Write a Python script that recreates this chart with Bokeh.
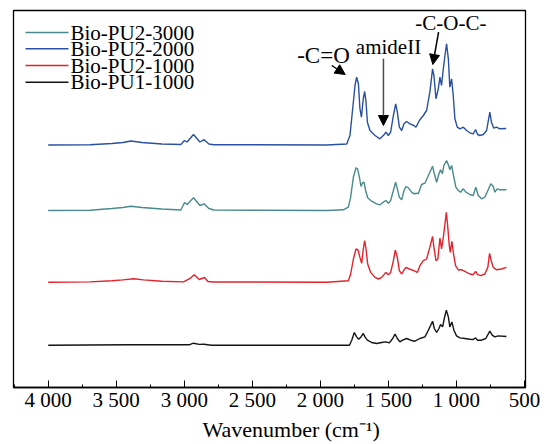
import numpy as np
from bokeh.plotting import figure
from bokeh.models import (Range1d, SingleIntervalTicker, CustomJSTickFormatter, ColumnDataSource,
                          Label, Arrow, NormalHead, Title)
from bokeh.embed import file_html
from bokeh.resources import INLINE

# ---------------- data ----------------
series_names = ["Bio-PU2-3000", "Bio-PU2-2000", "Bio-PU2-1000", "Bio-PU1-1000"]
series_colors = ["#4a8a8d", "#2a50a2", "#e3222b", "#141414"]
offsets = [177.0, 242.5, 105.3, 42.3]   # vertical stacking offset of each spectrum

wn_pu2_3000 = [4000, 3693, 3532, 3451, 3392, 3311, 3164, 3025, 2998, 2979, 2932, 2885, 2854, 2819, 2783,
               1953, 1831, 1794, 1777, 1757, 1738, 1726, 1713, 1701, 1689, 1679, 1667, 1652, 1623, 1586,
               1562, 1537, 1518, 1500, 1483, 1463, 1446, 1434, 1419, 1402, 1385, 1371, 1353, 1329, 1312,
               1292, 1280, 1256, 1231, 1206, 1175, 1162, 1145, 1128, 1116, 1103, 1092, 1072, 1057, 1048,
               1035, 1021, 1004, 986, 969, 949, 930, 901, 876, 857, 839, 815, 791, 766, 747, 729, 717,
               700, 681, 632]
int_pu2_3000 = [0, 0.3, 2, 3, 4.3, 3, 1.5, 0.5, 8, 6, 12.7, 5, 6.7, 2, 0.5,
                0, 0.7, 3.3, 13.3, 33.3, 42.7, 41.7, 33.3, 24, 27.7, 28.3, 20, 12.7, 9.3, 6.7,
                5.7, 8.3, 10, 7.3, 10, 20, 28.3, 21.7, 13.3, 10.7, 20, 24, 22.7, 18.3, 16.7,
                17.3, 16.7, 26, 27.3, 35, 44.3, 36.7, 28.3, 36.7, 40.7, 36.7, 45, 50, 45, 40.7,
                45, 35, 23.3, 20, 18.3, 21.7, 18.3, 16, 15, 23.3, 15, 11.7, 13.3, 20.7, 26.7, 24, 18.3,
                21.7, 20.7, 20.7]

wn_pu2_2000 = [4000, 3693, 3532, 3451, 3392, 3311, 3164, 3025, 2998, 2979, 2932, 2885, 2854, 2819, 2783,
               1953, 1806, 1782, 1762, 1745, 1733, 1720, 1709, 1698, 1684, 1674, 1664, 1654, 1635, 1598,
               1562, 1532, 1518, 1500, 1483, 1463, 1446, 1434, 1419, 1402, 1385, 1366, 1341, 1312, 1297,
               1272, 1243, 1219, 1195, 1175, 1165, 1150, 1133, 1121, 1109, 1096, 1084, 1072, 1059, 1048,
               1035, 1023, 1011, 993, 974, 949, 925, 901, 876, 859, 844, 828, 802, 778, 754, 742, 725,
               705, 681, 634]
int_pu2_2000 = [0, 0.3, 1.5, 2.5, 4, 2.5, 1, 0.5, 4.5, 3, 10.5, 3, 5.3, 1, 0.3,
                0, 1, 9.5, 36.5, 59.5, 67.8, 61.2, 36.5, 27.8, 46.5, 53.5, 42.8, 22.8, 14.5, 9.5,
                6.2, 10.2, 12.8, 9.5, 12.8, 29.5, 41.2, 32.8, 17.8, 14.5, 21.2, 23.5, 21.2, 19.5, 17.8,
                24.5, 29.5, 34.5, 52.8, 76.2, 69.5, 46.2, 56.2, 67.8, 59.5, 76.2, 89.5, 101.2, 86.2, 57.8,
                66.2, 49.5, 26.2, 17.8, 16.2, 17.8, 14.5, 12.2, 11.2, 15.5, 10.5, 9.5, 10.5, 14.5, 32.8, 22.8, 16.8,
                17.8, 16.2, 16.5]

wn_pu2_1000 = [4000, 3693, 3532, 3451, 3372, 3300, 3164, 3006, 2960, 2927, 2890, 2851, 2826, 2783,
               1953, 1794, 1777, 1757, 1738, 1723, 1709, 1696, 1684, 1674, 1664, 1652, 1630, 1598, 1573,
               1549, 1518, 1500, 1483, 1463, 1449, 1434, 1419, 1402, 1385, 1371, 1346, 1312, 1287, 1268,
               1243, 1219, 1195, 1175, 1165, 1150, 1136, 1121, 1109, 1096, 1084, 1074, 1065, 1052, 1045,
               1033, 1021, 1006, 986, 962, 938, 901, 876, 859, 844, 822, 791, 769, 756, 744, 729, 705,
               668, 632]
int_pu2_1000 = [0, 0.3, 1.5, 2.3, 3.4, 2.3, 1, 0.3, 3.5, 7.4, 2.7, 4.7, 0.7, 0.2,
                0, 1.5, 8.2, 23.2, 33.2, 32.2, 24.8, 18.8, 33.2, 41.5, 33.2, 18.2, 9.8, 4.8, 3.2,
                4.8, 9.8, 7.5, 9.8, 21.5, 32.2, 24.8, 11.5, 8.2, 12.2, 14.8, 13.2, 11.5, 9.8, 16.5,
                21.5, 23.2, 34.8, 45.8, 34.8, 21.5, 23.2, 44.2, 33.2, 44.8, 58.2, 69.8, 58.2, 36.5, 29.8,
                40.8, 28.2, 16.5, 12.2, 12.5, 10.8, 8.2, 7.5, 10.8, 7.5, 6.5, 8.2, 14.8, 28.8, 21.5, 14.8, 12.5,
                13.2, 14.8]

wn_pu1_1000 = [4000, 3400, 2960, 2932, 2890, 2855, 2800,
               1953, 1786, 1769, 1750, 1733, 1718, 1701, 1684, 1672, 1654, 1623, 1586, 1549,
               1518, 1493, 1468, 1451, 1434, 1415, 1395, 1366, 1336, 1305, 1268, 1231, 1206, 1175,
               1162, 1145, 1128, 1116, 1101, 1089, 1074, 1059, 1048, 1033, 1018, 999, 974, 938,
               901, 876, 859, 844, 815, 784, 754, 737, 717, 693, 632]
int_pu1_1000 = [0, 0.5, 0.5, 2, 0.8, 1, 0,
                0, 0, 5, 12.7, 8.3, 6, 8.3, 11.7, 8.3, 5, 2.7, 1.7, 2.7,
                3.3, 2.3, 6.7, 11, 6.7, 3.3, 5, 6.7, 5, 4, 6.7, 8.3, 15, 24,
                16.7, 12.7, 16.7, 20.7, 18.3, 26.7, 35, 28.3, 18.3, 23.3, 15, 9.3, 7.3, 6.7,
                6, 5.7, 7.3, 5, 5, 6.7, 14, 10, 8.3, 9.3, 8.7]

wavenumbers = [wn_pu2_3000, wn_pu2_2000, wn_pu2_1000, wn_pu1_1000]
intensities = [int_pu2_3000, int_pu2_2000, int_pu2_1000, int_pu1_1000]

# annotations: (text, x centre, y centre, font size)
band_labels = [("-C=O", 1977, 332.0, "23px"),
               ("amideII", 1499, 340.7, "21px"),
               ("-C-O-C-", 1040, 364.3, "21px")]
# arrows: (x tail, y tail, x head, y head, line colour)
band_arrows = [(1916, 322, 1817, 313, "black"),
               (1536, 328.7, 1536, 262, "#4d4d4d"),
               (1131, 355.3, 1173, 323, "black")]

# legend layout (in plot units): key line start / end, text start, row centres
legend_key_x = (4167, 3851)
legend_text_x = 3836
legend_rows_y = [355.0, 338.7, 322.0, 305.3]

FONT = "Liberation Serif"

# ---------------- figure ----------------
p = figure(width=546, height=444, output_backend="svg", toolbar_location=None,
           x_range=Range1d(4255, 492), y_range=Range1d(0, 377),
           y_axis_location=None,
           min_border_left=13, min_border_right=21, min_border_top=10, min_border_bottom=57)
p.grid.visible = False
p.outline_line_color = "black"
p.outline_line_width = 1.3
p.background_fill_color = "white"
p.border_fill_color = "white"

ax = p.xaxis[0]
ax.ticker = SingleIntervalTicker(interval=500, num_minor_ticks=2)
ax.formatter = CustomJSTickFormatter(code="""
    if (tick >= 1000) {
        const t = Math.round(tick);
        return Math.floor(t / 1000) + " " + String(t % 1000).padStart(3, "0");
    }
    return String(Math.round(tick));
""")
ax.major_tick_in = 7
ax.major_tick_out = 0
ax.minor_tick_in = 3
ax.minor_tick_out = 0
ax.major_tick_line_color = "black"
ax.minor_tick_line_color = "black"
ax.axis_line_color = "black"
ax.axis_line_width = 1.3
ax.major_label_text_font = FONT
ax.major_label_text_font_size = "21px"
ax.major_label_text_color = "black"
ax.major_label_standoff = 0

for wn, inten, off, col in zip(wavenumbers, intensities, offsets, series_colors):
    y = np.array(inten, dtype=float) + off
    p.line(wn, y, line_color=col, line_width=1.4)

# legend (drawn by hand so that its rows are as tight as in the reference)
key_src = ColumnDataSource(dict(x0=[legend_key_x[0]] * len(series_names),
                                x1=[legend_key_x[1]] * len(series_names),
                                y=legend_rows_y, color=series_colors))
p.segment(x0="x0", y0="y", x1="x1", y1="y", color="color", line_width=1.4, source=key_src)
for name, yy in zip(series_names, legend_rows_y):
    p.add_layout(Label(x=legend_text_x, y=yy, text=name, text_align="left", text_baseline="middle",
                       text_font=FONT, text_font_size="21px", text_color="black"))

for txt, x, y, fs in band_labels:
    p.add_layout(Label(x=x, y=y, text=txt, text_align="center", text_baseline="middle",
                       text_font=FONT, text_font_size=fs, text_color="black"))

for x0, y0, x1, y1, col in band_arrows:
    p.add_layout(Arrow(x_start=x0, y_start=y0, x_end=x1, y_end=y1, line_color=col, line_width=1.5,
                       end=NormalHead(size=10, fill_color="black", line_color="black")))

# axis title, placed as in the reference (somewhat right of the frame centre)
p.add_layout(Title(text="Wavenumber (cm\u207b\u00b9)", align="left", offset=189, standoff=0,
                   text_font=FONT, text_font_size="22px", text_font_style="normal",
                   text_color="black"), "below")

open("out.html", "w").write(file_html(p, INLINE))
